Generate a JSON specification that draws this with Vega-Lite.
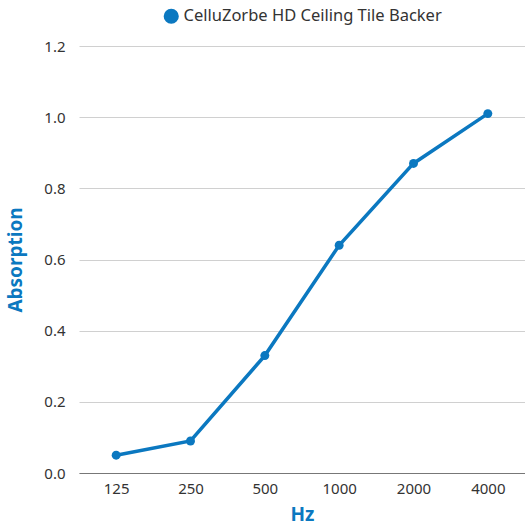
{
  "$schema": "https://vega.github.io/schema/vega-lite/v6.json",
  "autosize": {"type": "fit", "contains": "padding"},
  "width": 525,
  "height": 527,
  "padding": {"left": 6, "top": 8, "right": 0, "bottom": 3},
  "config": {
    "view": {"stroke": null},
    "font": "Noto Sans",
    "axis": {"labelFont": "Noto Sans", "titleFont": "Noto Sans"},
    "legend": {"layout": {"top": {"anchor": "middle"}}}
  },
  "data": {
    "values": [
      {"hz": "125", "abs": 0.05, "series": "CelluZorbe HD Ceiling Tile Backer"},
      {"hz": "250", "abs": 0.09, "series": "CelluZorbe HD Ceiling Tile Backer"},
      {"hz": "500", "abs": 0.33, "series": "CelluZorbe HD Ceiling Tile Backer"},
      {"hz": "1000", "abs": 0.64, "series": "CelluZorbe HD Ceiling Tile Backer"},
      {"hz": "2000", "abs": 0.87, "series": "CelluZorbe HD Ceiling Tile Backer"},
      {"hz": "4000", "abs": 1.01, "series": "CelluZorbe HD Ceiling Tile Backer"}
    ]
  },
  "mark": {"type": "line", "strokeWidth": 3.5, "point": {"filled": true, "size": 80}},
  "encoding": {
    "x": {
      "field": "hz", "type": "ordinal", "sort": null,
      "scale": {"type": "point", "padding": 0.5},
      "axis": {"title": "Hz", "titleColor": "#0b78c0", "titleFontSize": 19, "titleFontWeight": "bold", "titlePadding": 9,
               "labelAngle": 0, "labelFontSize": 15, "labelColor": "#333", "labelPadding": 8, "ticks": false,
               "domain": true, "domainColor": "#777", "domainWidth": 1.2, "grid": false}
    },
    "y": {
      "field": "abs", "type": "quantitative",
      "scale": {"domain": [0, 1.2]},
      "axis": {"title": "Absorption", "titleColor": "#0b78c0", "titleFontSize": 19, "titleFontWeight": "bold", "titlePadding": 18,
               "values": [0, 0.2, 0.4, 0.6, 0.8, 1.0, 1.2], "format": ".1f",
               "labelFontSize": 15, "labelColor": "#333", "labelPadding": 14, "ticks": false, "domain": false,
               "gridColor": "#d0d0d0", "gridWidth": 1}
    },
    "color": {
      "field": "series", "type": "nominal",
      "scale": {"range": ["#0b78c0"]},
      "legend": {"orient": "top", "title": null, "symbolType": "circle", "symbolSize": 230, "symbolStrokeWidth": 0,
                 "labelFontSize": 16.5, "labelColor": "#333", "labelLimit": 400, "offset": 21}
    }
  }
}
